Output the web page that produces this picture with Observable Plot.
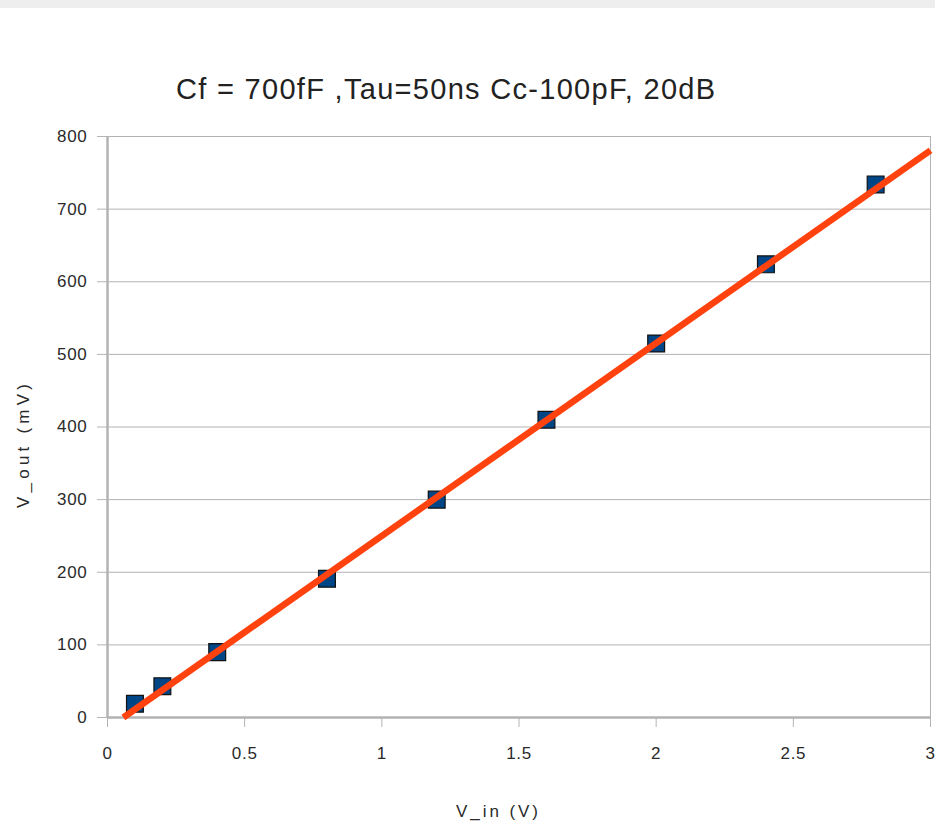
<!DOCTYPE html>
<html>
<head>
<meta charset="utf-8">
<script src="https://cdn.jsdelivr.net/npm/d3@7"></script>
<script src="https://cdn.jsdelivr.net/npm/@observablehq/plot@0.6"></script>
<style>
  html, body { margin: 0; padding: 0; background: #ffffff; }
  #wrap { position: relative; width: 935px; height: 825px; overflow: hidden; }
  #band { position: absolute; left: 0; top: 0; width: 935px; height: 8px; background: #eeeeee; }
  #title { position: absolute; left: 0; top: 0; width: 935px; height: 120px; }
  #title span { position: absolute; left: 176px; top: 75px; font-family: "Liberation Sans", Arial, sans-serif; font-size: 29px; line-height: 29px; letter-spacing: 1.3px; color: #222; white-space: nowrap; }
  #chart { position: absolute; left: 0; top: 120px; }
</style>
</head>
<body>
<div id="wrap">
  <div id="band"></div>
  <div id="title"><span>Cf = 700fF ,Tau=50ns Cc-100pF, 20dB</span></div>
  <div id="chart"></div>
</div>
<script>
// Measured points
const vin  = [0.1, 0.2, 0.4, 0.8, 1.2, 1.6, 2.0, 2.4, 2.8];
const vout = [19, 43, 90, 191, 300, 410, 515, 624, 734];
// Linear trend line endpoints (as drawn)
const trendX = [0.058, 3];
const trendY = [0, 781];
const xTicks = [0, 0.5, 1, 1.5, 2, 2.5, 3];
const yTicks = [0, 100, 200, 300, 400, 500, 600, 700, 800];
const titleText = "Cf = 700fF ,Tau=50ns Cc-100pF, 20dB";
const xLabel = "V_in (V)";
const yLabel = "V_out (mV)";

const points = vin.map((x, i) => ({x, y: vout[i]}));
const trend = trendX.map((x, i) => ({x, y: trendY[i]}));

const grid = "#b3b3b3";
const font = "'Liberation Sans', Arial, sans-serif";

const chart = Plot.plot({
  width: 935,
  height: 705,
  marginLeft: 107,
  marginRight: 5,
  marginTop: 16,
  marginBottom: 108,
  style: {fontFamily: font, fontSize: "17px", color: "#2a2a2a", background: "transparent", overflow: "visible"},
  x: {domain: [0, 3], ticks: xTicks},
  y: {domain: [0, 800], ticks: yTicks},
  marks: [
    Plot.gridY(yTicks, {stroke: grid, strokeOpacity: 1, strokeWidth: 1}),
    Plot.ruleX([3], {stroke: grid, strokeWidth: 1}),
    Plot.ruleX([0], {stroke: grid, strokeWidth: 2.5}),
    Plot.ruleY([0], {stroke: grid, strokeWidth: 2.5}),
    Plot.axisY(yTicks, {tickSize: 10, tickPadding: 10, stroke: grid, fill: "#2a2a2a", label: null, fontSize: 17}),
    Plot.axisX(xTicks, {tickSize: 10, tickPadding: 19, stroke: grid, fill: "#2a2a2a", label: null, fontSize: 17, tickFormat: d => String(d)}),
    Plot.dot(points, {x: "x", y: "y", symbol: "square", r: 9.5, fill: "#004586", stroke: "#111", strokeWidth: 1.2}),
    Plot.line(trend, {x: "x", y: "y", stroke: "#ff420e", strokeWidth: 6.5, strokeLinecap: "butt"}),
    Plot.text([xLabel], {ariaLabel: "xlabel", frameAnchor: "bottom", textAnchor: "middle", lineAnchor: "middle", dx: -22, dy: 94, fill: "#2a2a2a", fontSize: 17}),
    Plot.text([yLabel], {ariaLabel: "ylabel", frameAnchor: "left", textAnchor: "middle", lineAnchor: "middle", dx: -84, dy: 19, rotate: -90, fill: "#2a2a2a", fontSize: 17})
  ]
});
document.getElementById("chart").appendChild(chart);

// Wider glyph spacing like the reference rendering
chart.querySelectorAll("text").forEach(t => {
  const s = t.textContent;
  if (s === xLabel) { t.setAttribute("textLength", 82); t.setAttribute("lengthAdjust", "spacing"); }
  if (s === yLabel) { t.setAttribute("textLength", 124); t.setAttribute("lengthAdjust", "spacing"); }
});
chart.querySelectorAll('[aria-label="x-axis tick label"] text, [aria-label="y-axis tick label"] text').forEach(t => {
  t.style.letterSpacing = "0.7px";
});
</script>
</body>
</html>
